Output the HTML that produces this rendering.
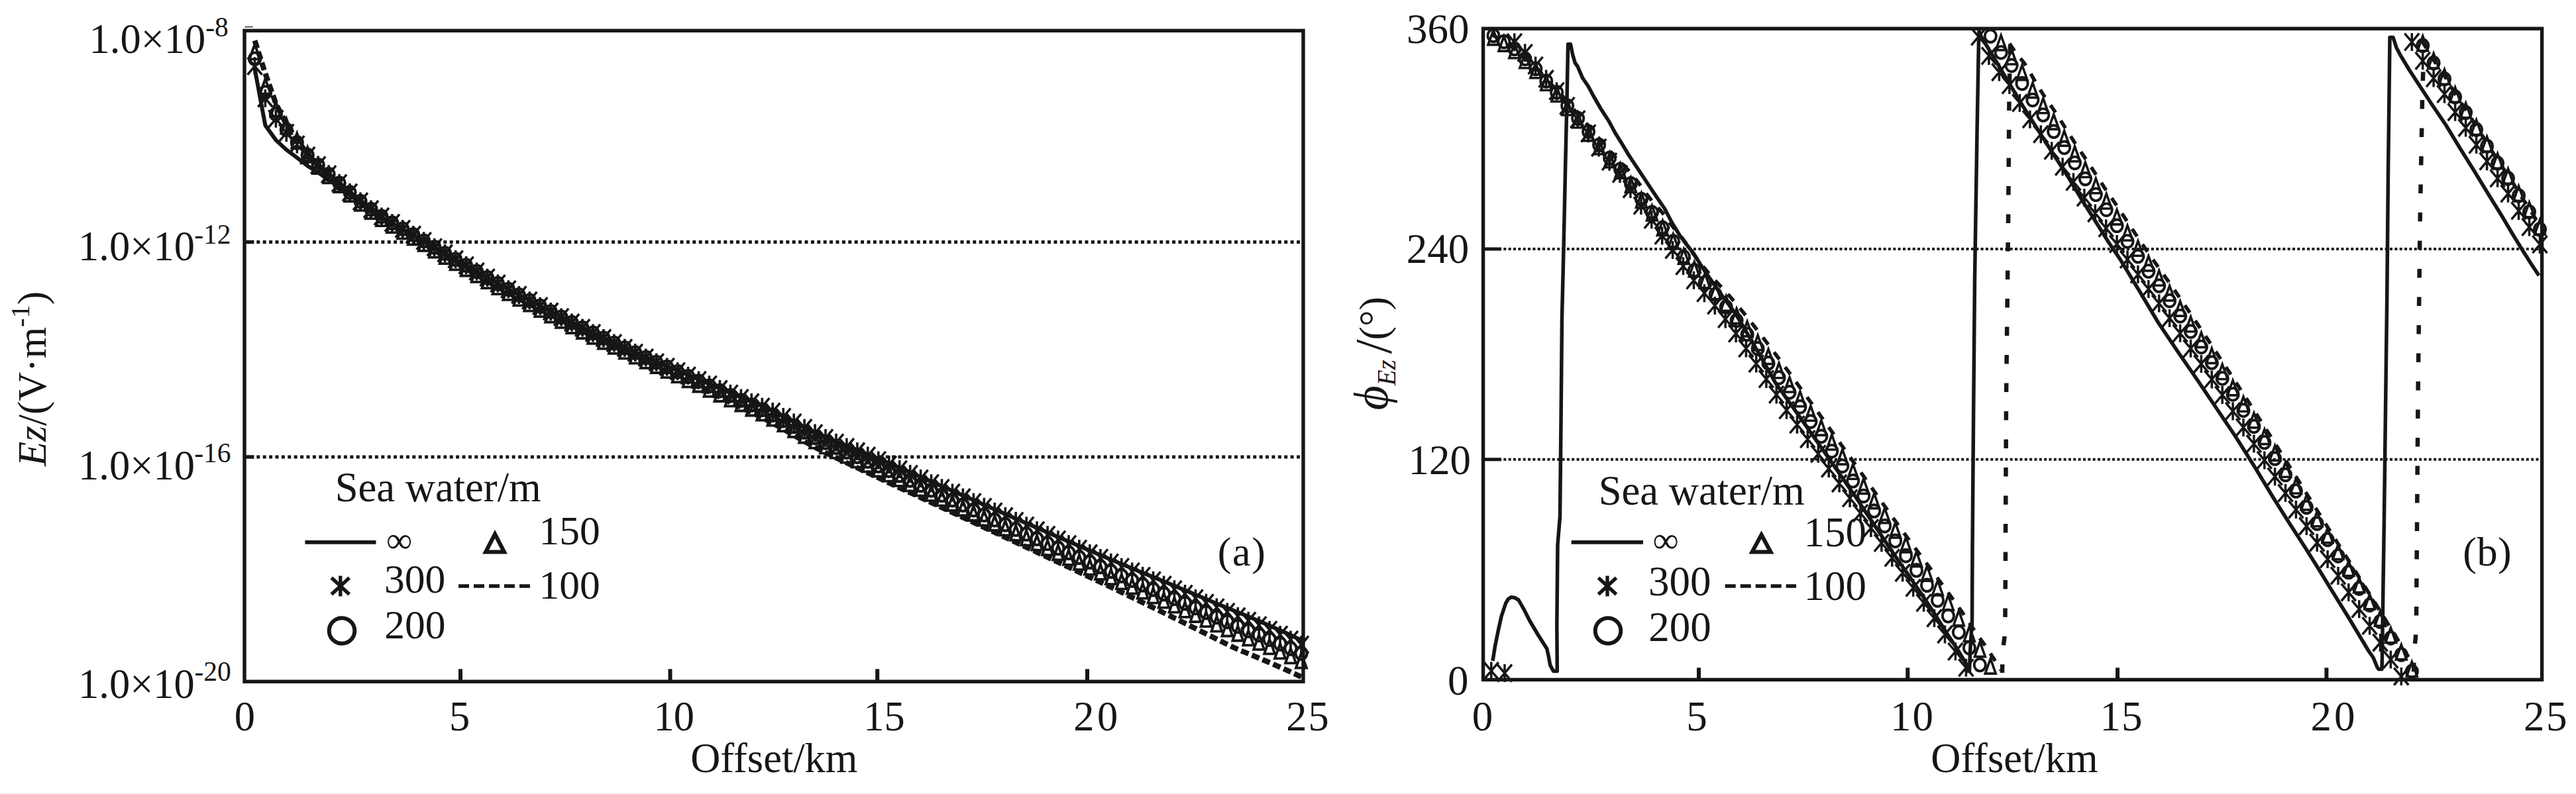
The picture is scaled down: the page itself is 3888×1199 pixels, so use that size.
<!DOCTYPE html>
<html lang="en"><head><meta charset="utf-8"><title>Ez amplitude and phase versus offset</title>
<style>
html,body{margin:0;padding:0;background:#fff;}
body{width:3888px;height:1199px;overflow:hidden;}
svg{display:block;font-family:"Liberation Serif","DejaVu Serif",serif;fill:#161616;}
.ln{fill:none;stroke:#161616;}
</style></head><body>
<svg width="3888" height="1199" viewBox="0 0 3888 1199">
<rect width="3888" height="1199" fill="#fff"/>
<rect x="0" y="1197" width="3888" height="2" fill="#f4f4f4"/>
<g id="plot-a">
<path class="ln" d="M387.3 365.5H1965.0" stroke-width="5" stroke-dasharray="5 4.4"/>
<path class="ln" d="M369.0 365.5H383.5" stroke-width="5.5"/>
<path class="ln" d="M387.3 690.0H1965.0" stroke-width="5" stroke-dasharray="5 4.4"/>
<path class="ln" d="M369.0 690.0H383.5" stroke-width="5.5"/>
<path class="ln" d="M695.0 1029.2V1010.3" stroke-width="6"/>
<path class="ln" d="M1011.5 1029.2V1010.3" stroke-width="6"/>
<path class="ln" d="M1324.2 1029.2V1010.3" stroke-width="6"/>
<path class="ln" d="M1641.0 1029.2V1010.3" stroke-width="6"/>
<path class="ln" d="M384.5 103.9L400.4 189.3L416.4 211.6L432.3 226.1L448.3 238.2L464.2 250.5L480.2 260.5L496.1 271.6L512.1 282.5L528.0 294.4L544.0 305.8L560.0 317.0L575.9 327.7L591.9 337.5L607.8 346.2L623.8 354.9L639.7 364.2L655.7 373.6L671.6 382.7L687.6 391.6L703.6 400.5L719.5 409.9L735.5 419.1L751.4 428.0L767.4 436.6L783.3 445.1L799.3 453.5L815.2 461.8L831.2 470.1L847.1 478.4L863.1 486.5L879.1 494.5L895.0 502.3L911.0 509.8L926.9 517.2L942.9 524.5L958.8 531.8L974.8 539.0L990.7 546.1L1006.7 552.9L1022.7 559.6L1038.6 566.2L1054.6 572.9L1070.5 579.7L1086.5 586.5L1102.4 593.3L1118.4 600.0L1134.3 606.5L1150.3 613.2L1166.2 620.6L1182.2 628.6L1198.2 636.9L1214.1 645.1L1230.1 652.9L1246.0 660.1L1262.0 666.9L1277.9 673.4L1293.9 679.8L1309.8 686.4L1325.8 693.0L1341.8 699.6L1357.7 706.4L1373.7 713.3L1389.6 720.3L1405.6 727.2L1421.5 734.2L1437.5 741.2L1453.4 748.3L1469.4 755.3L1485.3 762.3L1501.3 769.3L1517.3 776.3L1533.2 783.3L1549.2 790.2L1565.1 797.1L1581.1 804.0L1597.0 810.9L1613.0 817.7L1628.9 824.6L1644.9 831.4L1660.9 838.2L1676.8 845.0L1692.8 851.7L1708.7 858.3L1724.7 864.9L1740.6 871.4L1756.6 878.0L1772.5 884.6L1788.5 891.3L1804.5 898.0L1820.4 904.7L1836.4 911.4L1852.3 918.0L1868.3 924.5L1884.2 931.1L1900.2 937.8L1916.1 944.7L1932.1 951.8L1948.0 959.1L1964.0 966.6" stroke-width="6" stroke-linejoin="round"/>
<path class="ln" d="M384.5 61.3L400.4 110.9L416.4 156.5L432.3 187.8L448.3 210.8L464.2 233.0L480.2 249.5L496.1 263.7L512.1 277.6L528.0 291.9L544.0 305.7L560.0 318.0L575.9 329.2L591.9 339.4L607.8 348.6L623.8 357.7L639.7 367.5L655.7 377.3L671.6 386.9L687.6 396.2L703.6 405.6L719.5 415.1L735.5 424.5L751.4 433.5L767.4 442.3L783.3 450.9L799.3 459.5L815.2 467.9L831.2 476.4L847.1 484.8L863.1 493.1L879.1 501.3L895.0 509.2L911.0 516.9L926.9 524.5L942.9 532.0L958.8 539.4L974.8 546.7L990.7 554.0L1006.7 561.4L1022.7 568.9L1038.6 576.5L1054.6 584.2L1070.5 591.9L1086.5 599.7L1102.4 607.4L1118.4 615.2L1134.3 622.7L1150.3 630.5L1166.2 639.0L1182.2 648.0L1198.2 657.3L1214.1 666.6L1230.1 675.4L1246.0 683.6L1262.0 691.4L1277.9 698.9L1293.9 706.4L1309.8 713.9L1325.8 721.5L1341.8 729.1L1357.7 736.5L1373.7 743.9L1389.6 751.3L1405.6 758.8L1421.5 766.3L1437.5 773.8L1453.4 781.3L1469.4 788.8L1485.3 796.4L1501.3 803.9L1517.3 811.4L1533.2 818.9L1549.2 826.3L1565.1 833.8L1581.1 841.4L1597.0 849.0L1613.0 856.5L1628.9 864.1L1644.9 871.6L1660.9 879.1L1676.8 886.6L1692.8 894.4L1708.7 902.2L1724.7 909.9L1740.6 917.7L1756.6 925.5L1772.5 933.3L1788.5 941.2L1804.5 949.2L1820.4 957.1L1836.4 965.1L1852.3 973.0L1868.3 980.7L1884.2 987.1L1900.2 993.7L1916.1 1000.5L1932.1 1007.5L1948.0 1014.7L1964.0 1022.1" stroke-width="8" stroke-dasharray="12 5.4"/>
<path class="ln" d="M384.5 66.9L392.4 89.3H376.5ZM400.4 119.2L408.4 141.6H392.5ZM416.4 153.6L424.3 175.9H408.4ZM432.3 179.2L440.3 201.6H424.4ZM448.3 201.2L456.2 223.5H440.3ZM464.2 222.4L472.2 244.8H456.3ZM480.2 239.9L488.1 262.2H472.2ZM496.1 254.0L504.1 276.3H488.2ZM512.1 267.7L520.0 290.0H504.1ZM528.0 281.9L536.0 304.2H520.1ZM544.0 295.6L552.0 317.9H536.1ZM560.0 307.7L567.9 330.1H552.0ZM575.9 318.8L583.9 341.1H568.0ZM591.9 328.9L599.8 351.2H583.9ZM607.8 337.9L615.8 360.3H599.9ZM623.8 346.9L631.7 369.3H615.8ZM639.7 356.6L647.7 378.9H631.8ZM655.7 366.3L663.6 388.7H647.7ZM671.6 375.7L679.6 398.1H663.7ZM687.6 384.9L695.6 407.3H679.6ZM703.6 394.2L711.5 416.5H695.6ZM719.5 403.5L727.5 425.9H711.6ZM735.5 412.8L743.4 435.2H727.5ZM751.4 421.7L759.4 444.1H743.5ZM767.4 430.4L775.3 452.8H759.4ZM783.3 439.0L791.3 461.3H775.4ZM799.3 447.4L807.2 469.7H791.3ZM815.2 455.8L823.2 478.1H807.3ZM831.2 464.1L839.1 486.5H823.2ZM847.1 472.5L855.1 494.8H839.2ZM863.1 480.7L871.1 503.0H855.2ZM879.1 488.7L887.0 511.0H871.1ZM895.0 496.5L903.0 518.9H887.1ZM911.0 504.1L918.9 526.5H903.0ZM926.9 511.6L934.9 533.9H919.0ZM942.9 518.9L950.8 541.3H934.9ZM958.8 526.2L966.8 548.6H950.9ZM974.8 533.5L982.7 555.8H966.8ZM990.7 540.7L998.7 563.0H982.8ZM1006.7 547.7L1014.7 570.1H998.8ZM1022.7 554.8L1030.6 577.2H1014.7ZM1038.6 562.0L1046.6 584.3H1030.7ZM1054.6 569.2L1062.5 591.5H1046.6ZM1070.5 576.4L1078.5 598.8H1062.6ZM1086.5 583.7L1094.4 606.0H1078.5ZM1102.4 590.9L1110.4 613.3H1094.5ZM1118.4 598.1L1126.3 620.5H1110.4ZM1134.3 605.1L1142.3 627.5H1126.4ZM1150.3 612.3L1158.2 634.7H1142.3ZM1166.2 620.2L1174.2 642.6H1158.3ZM1182.2 628.7L1190.2 651.1H1174.3ZM1198.2 637.4L1206.1 659.8H1190.2ZM1214.1 646.1L1222.1 668.5H1206.2ZM1230.1 654.4L1238.0 676.7H1222.1ZM1246.0 662.0L1254.0 684.4H1238.1ZM1262.0 669.2L1269.9 691.6H1254.0ZM1277.9 676.2L1285.9 698.6H1270.0ZM1293.9 683.1L1301.8 705.5H1285.9ZM1309.8 690.1L1317.8 712.4H1301.9ZM1325.8 697.1L1333.8 719.5H1317.8ZM1341.8 704.2L1349.7 726.6H1333.8ZM1357.7 711.6L1365.7 733.9H1349.8ZM1373.7 718.9L1381.6 741.3H1365.7ZM1389.6 726.3L1397.6 748.7H1381.7ZM1405.6 733.7L1413.5 756.1H1397.6ZM1421.5 741.2L1429.5 763.6H1413.6ZM1437.5 748.7L1445.4 771.0H1429.5ZM1453.4 756.2L1461.4 778.5H1445.5ZM1469.4 763.6L1477.3 786.0H1461.4ZM1485.3 771.1L1493.3 793.5H1477.4ZM1501.3 778.6L1509.3 801.0H1493.4ZM1517.3 786.1L1525.2 808.4H1509.3ZM1533.2 793.5L1541.2 815.9H1525.3ZM1549.2 800.9L1557.1 823.3H1541.2ZM1565.1 808.3L1573.1 830.7H1557.2ZM1581.1 815.7L1589.0 838.1H1573.1ZM1597.0 823.1L1605.0 845.5H1589.1ZM1613.0 830.5L1620.9 852.9H1605.0ZM1628.9 837.9L1636.9 860.2H1621.0ZM1644.9 845.2L1652.9 867.6H1637.0ZM1660.9 852.5L1668.8 874.9H1652.9ZM1676.8 859.8L1684.8 882.2H1668.9ZM1692.8 867.1L1700.7 889.4H1684.8ZM1708.7 874.2L1716.7 896.5H1700.8ZM1724.7 881.2L1732.6 903.6H1716.7ZM1740.6 888.2L1748.6 910.6H1732.7ZM1756.6 895.3L1764.5 917.6H1748.6ZM1772.5 902.4L1780.5 924.7H1764.6ZM1788.5 909.5L1796.4 931.9H1780.5ZM1804.5 916.7L1812.4 939.0H1796.5ZM1820.4 923.9L1828.4 946.2H1812.5ZM1836.4 931.0L1844.3 953.4H1828.4ZM1852.3 938.1L1860.3 960.5H1844.4ZM1868.3 945.2L1876.2 967.5H1860.3ZM1884.2 952.0L1892.2 974.4H1876.3ZM1900.2 958.4L1908.1 980.8H1892.2ZM1916.1 965.1L1924.1 987.4H1908.2ZM1932.1 971.9L1940.0 994.3H1924.1ZM1948.0 979.0L1956.0 1001.3H1940.1ZM1964.0 986.2L1972.0 1008.6H1956.0Z" stroke-width="3.8" stroke-linejoin="miter"/>
<path class="ln" d="M375.9 88.8a8.6 9.3 0 1 0 17.2 0a8.6 9.3 0 1 0 -17.2 0zM391.8 139.5a8.6 9.3 0 1 0 17.2 0a8.6 9.3 0 1 0 -17.2 0zM407.8 172.3a8.6 9.3 0 1 0 17.2 0a8.6 9.3 0 1 0 -17.2 0zM423.7 195.8a8.6 9.3 0 1 0 17.2 0a8.6 9.3 0 1 0 -17.2 0zM439.7 215.3a8.6 9.3 0 1 0 17.2 0a8.6 9.3 0 1 0 -17.2 0zM455.6 234.2a8.6 9.3 0 1 0 17.2 0a8.6 9.3 0 1 0 -17.2 0zM471.6 249.3a8.6 9.3 0 1 0 17.2 0a8.6 9.3 0 1 0 -17.2 0zM487.5 263.1a8.6 9.3 0 1 0 17.2 0a8.6 9.3 0 1 0 -17.2 0zM503.5 276.6a8.6 9.3 0 1 0 17.2 0a8.6 9.3 0 1 0 -17.2 0zM519.4 290.6a8.6 9.3 0 1 0 17.2 0a8.6 9.3 0 1 0 -17.2 0zM535.4 304.1a8.6 9.3 0 1 0 17.2 0a8.6 9.3 0 1 0 -17.2 0zM551.4 316.0a8.6 9.3 0 1 0 17.2 0a8.6 9.3 0 1 0 -17.2 0zM567.3 326.9a8.6 9.3 0 1 0 17.2 0a8.6 9.3 0 1 0 -17.2 0zM583.3 336.7a8.6 9.3 0 1 0 17.2 0a8.6 9.3 0 1 0 -17.2 0zM599.2 345.6a8.6 9.3 0 1 0 17.2 0a8.6 9.3 0 1 0 -17.2 0zM615.2 354.4a8.6 9.3 0 1 0 17.2 0a8.6 9.3 0 1 0 -17.2 0zM631.1 363.8a8.6 9.3 0 1 0 17.2 0a8.6 9.3 0 1 0 -17.2 0zM647.1 373.3a8.6 9.3 0 1 0 17.2 0a8.6 9.3 0 1 0 -17.2 0zM663.0 382.5a8.6 9.3 0 1 0 17.2 0a8.6 9.3 0 1 0 -17.2 0zM679.0 391.5a8.6 9.3 0 1 0 17.2 0a8.6 9.3 0 1 0 -17.2 0zM695.0 400.6a8.6 9.3 0 1 0 17.2 0a8.6 9.3 0 1 0 -17.2 0zM710.9 409.9a8.6 9.3 0 1 0 17.2 0a8.6 9.3 0 1 0 -17.2 0zM726.9 419.2a8.6 9.3 0 1 0 17.2 0a8.6 9.3 0 1 0 -17.2 0zM742.8 428.1a8.6 9.3 0 1 0 17.2 0a8.6 9.3 0 1 0 -17.2 0zM758.8 436.8a8.6 9.3 0 1 0 17.2 0a8.6 9.3 0 1 0 -17.2 0zM774.7 445.4a8.6 9.3 0 1 0 17.2 0a8.6 9.3 0 1 0 -17.2 0zM790.7 453.8a8.6 9.3 0 1 0 17.2 0a8.6 9.3 0 1 0 -17.2 0zM806.6 462.2a8.6 9.3 0 1 0 17.2 0a8.6 9.3 0 1 0 -17.2 0zM822.6 470.5a8.6 9.3 0 1 0 17.2 0a8.6 9.3 0 1 0 -17.2 0zM838.5 478.9a8.6 9.3 0 1 0 17.2 0a8.6 9.3 0 1 0 -17.2 0zM854.5 487.1a8.6 9.3 0 1 0 17.2 0a8.6 9.3 0 1 0 -17.2 0zM870.5 495.1a8.6 9.3 0 1 0 17.2 0a8.6 9.3 0 1 0 -17.2 0zM886.4 502.9a8.6 9.3 0 1 0 17.2 0a8.6 9.3 0 1 0 -17.2 0zM902.4 510.5a8.6 9.3 0 1 0 17.2 0a8.6 9.3 0 1 0 -17.2 0zM918.3 518.0a8.6 9.3 0 1 0 17.2 0a8.6 9.3 0 1 0 -17.2 0zM934.3 525.3a8.6 9.3 0 1 0 17.2 0a8.6 9.3 0 1 0 -17.2 0zM950.2 532.6a8.6 9.3 0 1 0 17.2 0a8.6 9.3 0 1 0 -17.2 0zM966.2 539.9a8.6 9.3 0 1 0 17.2 0a8.6 9.3 0 1 0 -17.2 0zM982.1 547.1a8.6 9.3 0 1 0 17.2 0a8.6 9.3 0 1 0 -17.2 0zM998.1 554.1a8.6 9.3 0 1 0 17.2 0a8.6 9.3 0 1 0 -17.2 0zM1014.1 561.2a8.6 9.3 0 1 0 17.2 0a8.6 9.3 0 1 0 -17.2 0zM1030.0 568.4a8.6 9.3 0 1 0 17.2 0a8.6 9.3 0 1 0 -17.2 0zM1046.0 575.6a8.6 9.3 0 1 0 17.2 0a8.6 9.3 0 1 0 -17.2 0zM1061.9 582.8a8.6 9.3 0 1 0 17.2 0a8.6 9.3 0 1 0 -17.2 0zM1077.9 590.1a8.6 9.3 0 1 0 17.2 0a8.6 9.3 0 1 0 -17.2 0zM1093.8 597.3a8.6 9.3 0 1 0 17.2 0a8.6 9.3 0 1 0 -17.2 0zM1109.8 604.5a8.6 9.3 0 1 0 17.2 0a8.6 9.3 0 1 0 -17.2 0zM1125.7 611.5a8.6 9.3 0 1 0 17.2 0a8.6 9.3 0 1 0 -17.2 0zM1141.7 618.7a8.6 9.3 0 1 0 17.2 0a8.6 9.3 0 1 0 -17.2 0zM1157.7 626.6a8.6 9.3 0 1 0 17.2 0a8.6 9.3 0 1 0 -17.2 0zM1173.6 635.1a8.6 9.3 0 1 0 17.2 0a8.6 9.3 0 1 0 -17.2 0zM1189.6 643.8a8.6 9.3 0 1 0 17.2 0a8.6 9.3 0 1 0 -17.2 0zM1205.5 652.5a8.6 9.3 0 1 0 17.2 0a8.6 9.3 0 1 0 -17.2 0zM1221.5 660.8a8.6 9.3 0 1 0 17.2 0a8.6 9.3 0 1 0 -17.2 0zM1237.4 668.4a8.6 9.3 0 1 0 17.2 0a8.6 9.3 0 1 0 -17.2 0zM1253.4 675.6a8.6 9.3 0 1 0 17.2 0a8.6 9.3 0 1 0 -17.2 0zM1269.3 682.6a8.6 9.3 0 1 0 17.2 0a8.6 9.3 0 1 0 -17.2 0zM1285.3 689.5a8.6 9.3 0 1 0 17.2 0a8.6 9.3 0 1 0 -17.2 0zM1301.2 696.5a8.6 9.3 0 1 0 17.2 0a8.6 9.3 0 1 0 -17.2 0zM1317.2 703.5a8.6 9.3 0 1 0 17.2 0a8.6 9.3 0 1 0 -17.2 0zM1333.2 710.6a8.6 9.3 0 1 0 17.2 0a8.6 9.3 0 1 0 -17.2 0zM1349.1 718.0a8.6 9.3 0 1 0 17.2 0a8.6 9.3 0 1 0 -17.2 0zM1365.1 725.3a8.6 9.3 0 1 0 17.2 0a8.6 9.3 0 1 0 -17.2 0zM1381.0 732.7a8.6 9.3 0 1 0 17.2 0a8.6 9.3 0 1 0 -17.2 0zM1397.0 740.2a8.6 9.3 0 1 0 17.2 0a8.6 9.3 0 1 0 -17.2 0zM1412.9 747.7a8.6 9.3 0 1 0 17.2 0a8.6 9.3 0 1 0 -17.2 0zM1428.9 755.1a8.6 9.3 0 1 0 17.2 0a8.6 9.3 0 1 0 -17.2 0zM1444.8 762.6a8.6 9.3 0 1 0 17.2 0a8.6 9.3 0 1 0 -17.2 0zM1460.8 770.1a8.6 9.3 0 1 0 17.2 0a8.6 9.3 0 1 0 -17.2 0zM1476.8 777.6a8.6 9.3 0 1 0 17.2 0a8.6 9.3 0 1 0 -17.2 0zM1492.7 785.1a8.6 9.3 0 1 0 17.2 0a8.6 9.3 0 1 0 -17.2 0zM1508.7 792.3a8.6 9.3 0 1 0 17.2 0a8.6 9.3 0 1 0 -17.2 0zM1524.6 799.4a8.6 9.3 0 1 0 17.2 0a8.6 9.3 0 1 0 -17.2 0zM1540.6 806.5a8.6 9.3 0 1 0 17.2 0a8.6 9.3 0 1 0 -17.2 0zM1556.5 813.6a8.6 9.3 0 1 0 17.2 0a8.6 9.3 0 1 0 -17.2 0zM1572.5 820.7a8.6 9.3 0 1 0 17.2 0a8.6 9.3 0 1 0 -17.2 0zM1588.4 827.7a8.6 9.3 0 1 0 17.2 0a8.6 9.3 0 1 0 -17.2 0zM1604.4 834.8a8.6 9.3 0 1 0 17.2 0a8.6 9.3 0 1 0 -17.2 0zM1620.3 841.8a8.6 9.3 0 1 0 17.2 0a8.6 9.3 0 1 0 -17.2 0zM1636.3 848.8a8.6 9.3 0 1 0 17.2 0a8.6 9.3 0 1 0 -17.2 0zM1652.3 855.8a8.6 9.3 0 1 0 17.2 0a8.6 9.3 0 1 0 -17.2 0zM1668.2 862.7a8.6 9.3 0 1 0 17.2 0a8.6 9.3 0 1 0 -17.2 0zM1684.2 869.6a8.6 9.3 0 1 0 17.2 0a8.6 9.3 0 1 0 -17.2 0zM1700.1 876.5a8.6 9.3 0 1 0 17.2 0a8.6 9.3 0 1 0 -17.2 0zM1716.1 883.3a8.6 9.3 0 1 0 17.2 0a8.6 9.3 0 1 0 -17.2 0zM1732.0 890.2a8.6 9.3 0 1 0 17.2 0a8.6 9.3 0 1 0 -17.2 0zM1748.0 897.0a8.6 9.3 0 1 0 17.2 0a8.6 9.3 0 1 0 -17.2 0zM1763.9 904.0a8.6 9.3 0 1 0 17.2 0a8.6 9.3 0 1 0 -17.2 0zM1779.9 910.9a8.6 9.3 0 1 0 17.2 0a8.6 9.3 0 1 0 -17.2 0zM1795.9 917.9a8.6 9.3 0 1 0 17.2 0a8.6 9.3 0 1 0 -17.2 0zM1811.8 924.9a8.6 9.3 0 1 0 17.2 0a8.6 9.3 0 1 0 -17.2 0zM1827.8 931.9a8.6 9.3 0 1 0 17.2 0a8.6 9.3 0 1 0 -17.2 0zM1843.7 938.8a8.6 9.3 0 1 0 17.2 0a8.6 9.3 0 1 0 -17.2 0zM1859.7 945.7a8.6 9.3 0 1 0 17.2 0a8.6 9.3 0 1 0 -17.2 0zM1875.6 952.4a8.6 9.3 0 1 0 17.2 0a8.6 9.3 0 1 0 -17.2 0zM1891.6 958.8a8.6 9.3 0 1 0 17.2 0a8.6 9.3 0 1 0 -17.2 0zM1907.5 965.5a8.6 9.3 0 1 0 17.2 0a8.6 9.3 0 1 0 -17.2 0zM1923.5 972.3a8.6 9.3 0 1 0 17.2 0a8.6 9.3 0 1 0 -17.2 0zM1939.4 979.4a8.6 9.3 0 1 0 17.2 0a8.6 9.3 0 1 0 -17.2 0zM1955.4 986.6a8.6 9.3 0 1 0 17.2 0a8.6 9.3 0 1 0 -17.2 0z" stroke-width="4.1"/>
<path class="ln" d="M373.5 86.8L395.5 112.8M395.5 86.8L373.5 112.8M384.5 86.3V113.3M389.4 135.5L411.4 161.5M411.4 135.5L389.4 161.5M400.4 135.0V162.0M405.4 166.3L427.4 192.3M427.4 166.3L405.4 192.3M416.4 165.8V192.8M421.3 187.6L443.3 213.6M443.3 187.6L421.3 213.6M432.3 187.1V214.1M437.3 205.1L459.3 231.1M459.3 205.1L437.3 231.1M448.3 204.6V231.6M453.2 221.9L475.2 247.9M475.2 221.9L453.2 247.9M464.2 221.4V248.4M469.2 236.3L491.2 262.3M491.2 236.3L469.2 262.3M480.2 235.8V262.8M485.1 250.1L507.1 276.1M507.1 250.1L485.1 276.1M496.1 249.6V276.6M501.1 263.6L523.1 289.6M523.1 263.6L501.1 289.6M512.1 263.1V290.1M517.0 277.6L539.0 303.6M539.0 277.6L517.0 303.6M528.0 277.1V304.1M533.0 291.1L555.0 317.1M555.0 291.1L533.0 317.1M544.0 290.6V317.6M549.0 303.0L571.0 329.0M571.0 303.0L549.0 329.0M560.0 302.5V329.5M564.9 313.9L586.9 339.9M586.9 313.9L564.9 339.9M575.9 313.4V340.4M580.9 323.7L602.9 349.7M602.9 323.7L580.9 349.7M591.9 323.2V350.2M596.8 332.6L618.8 358.6M618.8 332.6L596.8 358.6M607.8 332.1V359.1M612.8 341.4L634.8 367.4M634.8 341.4L612.8 367.4M623.8 340.9V367.9M628.7 350.8L650.7 376.8M650.7 350.8L628.7 376.8M639.7 350.3V377.3M644.7 360.3L666.7 386.3M666.7 360.3L644.7 386.3M655.7 359.8V386.8M660.6 369.5L682.6 395.5M682.6 369.5L660.6 395.5M671.6 369.0V396.0M676.6 378.5L698.6 404.5M698.6 378.5L676.6 404.5M687.6 378.0V405.0M692.6 387.6L714.6 413.6M714.6 387.6L692.6 413.6M703.6 387.1V414.1M708.5 396.9L730.5 422.9M730.5 396.9L708.5 422.9M719.5 396.4V423.4M724.5 406.2L746.5 432.2M746.5 406.2L724.5 432.2M735.5 405.7V432.7M740.4 415.1L762.4 441.1M762.4 415.1L740.4 441.1M751.4 414.6V441.6M756.4 423.8L778.4 449.8M778.4 423.8L756.4 449.8M767.4 423.3V450.3M772.3 432.4L794.3 458.4M794.3 432.4L772.3 458.4M783.3 431.9V458.9M788.3 440.8L810.3 466.8M810.3 440.8L788.3 466.8M799.3 440.3V467.3M804.2 449.2L826.2 475.2M826.2 449.2L804.2 475.2M815.2 448.7V475.7M820.2 457.5L842.2 483.5M842.2 457.5L820.2 483.5M831.2 457.0V484.0M836.1 465.9L858.1 491.9M858.1 465.9L836.1 491.9M847.1 465.4V492.4M852.1 474.1L874.1 500.1M874.1 474.1L852.1 500.1M863.1 473.6V500.6M868.1 482.1L890.1 508.1M890.1 482.1L868.1 508.1M879.1 481.6V508.6M884.0 489.9L906.0 515.9M906.0 489.9L884.0 515.9M895.0 489.4V516.4M900.0 497.5L922.0 523.5M922.0 497.5L900.0 523.5M911.0 497.0V524.0M915.9 505.0L937.9 531.0M937.9 505.0L915.9 531.0M926.9 504.5V531.5M931.9 512.3L953.9 538.3M953.9 512.3L931.9 538.3M942.9 511.8V538.8M947.8 519.6L969.8 545.6M969.8 519.6L947.8 545.6M958.8 519.1V546.1M963.8 526.9L985.8 552.9M985.8 526.9L963.8 552.9M974.8 526.4V553.4M979.7 534.1L1001.7 560.1M1001.7 534.1L979.7 560.1M990.7 533.6V560.6M995.7 540.9L1017.7 566.9M1017.7 540.9L995.7 566.9M1006.7 540.4V567.4M1011.7 547.6L1033.7 573.6M1033.7 547.6L1011.7 573.6M1022.7 547.1V574.1M1027.6 554.2L1049.6 580.2M1049.6 554.2L1027.6 580.2M1038.6 553.7V580.7M1043.6 560.9L1065.6 586.9M1065.6 560.9L1043.6 586.9M1054.6 560.4V587.4M1059.5 567.7L1081.5 593.7M1081.5 567.7L1059.5 593.7M1070.5 567.2V594.2M1075.5 574.5L1097.5 600.5M1097.5 574.5L1075.5 600.5M1086.5 574.0V601.0M1091.4 581.3L1113.4 607.3M1113.4 581.3L1091.4 607.3M1102.4 580.8V607.8M1107.4 588.0L1129.4 614.0M1129.4 588.0L1107.4 614.0M1118.4 587.5V614.5M1123.3 594.5L1145.3 620.5M1145.3 594.5L1123.3 620.5M1134.3 594.0V621.0M1139.3 601.2L1161.3 627.2M1161.3 601.2L1139.3 627.2M1150.3 600.7V627.7M1155.2 608.6L1177.2 634.6M1177.2 608.6L1155.2 634.6M1166.2 608.1V635.1M1171.2 616.6L1193.2 642.6M1193.2 616.6L1171.2 642.6M1182.2 616.1V643.1M1187.2 624.9L1209.2 650.9M1209.2 624.9L1187.2 650.9M1198.2 624.4V651.4M1203.1 633.2L1225.1 659.2M1225.1 633.2L1203.1 659.2M1214.1 632.7V659.7M1219.1 641.1L1241.1 667.1M1241.1 641.1L1219.1 667.1M1230.1 640.6V667.6M1235.0 648.4L1257.0 674.4M1257.0 648.4L1235.0 674.4M1246.0 647.9V674.9M1251.0 655.3L1273.0 681.3M1273.0 655.3L1251.0 681.3M1262.0 654.8V681.8M1266.9 662.0L1288.9 688.0M1288.9 662.0L1266.9 688.0M1277.9 661.5V688.5M1282.9 668.5L1304.9 694.5M1304.9 668.5L1282.9 694.5M1293.9 668.0V695.0M1298.8 675.1L1320.8 701.1M1320.8 675.1L1298.8 701.1M1309.8 674.6V701.6M1314.8 681.9L1336.8 707.9M1336.8 681.9L1314.8 707.9M1325.8 681.4V708.4M1330.8 688.6L1352.8 714.6M1352.8 688.6L1330.8 714.6M1341.8 688.1V715.1M1346.7 695.6L1368.7 721.6M1368.7 695.6L1346.7 721.6M1357.7 695.1V722.1M1362.7 702.6L1384.7 728.6M1384.7 702.6L1362.7 728.6M1373.7 702.1V729.1M1378.6 709.6L1400.6 735.6M1400.6 709.6L1378.6 735.6M1389.6 709.1V736.1M1394.6 716.7L1416.6 742.7M1416.6 716.7L1394.6 742.7M1405.6 716.2V743.2M1410.5 723.8L1432.5 749.8M1432.5 723.8L1410.5 749.8M1421.5 723.3V750.3M1426.5 730.9L1448.5 756.9M1448.5 730.9L1426.5 756.9M1437.5 730.4V757.4M1442.4 738.0L1464.4 764.0M1464.4 738.0L1442.4 764.0M1453.4 737.5V764.5M1458.4 745.2L1480.4 771.2M1480.4 745.2L1458.4 771.2M1469.4 744.7V771.7M1474.3 752.3L1496.3 778.3M1496.3 752.3L1474.3 778.3M1485.3 751.8V778.8M1490.3 759.4L1512.3 785.4M1512.3 759.4L1490.3 785.4M1501.3 758.9V785.9M1506.3 766.5L1528.3 792.5M1528.3 766.5L1506.3 792.5M1517.3 766.0V793.0M1522.2 773.6L1544.2 799.6M1544.2 773.6L1522.2 799.6M1533.2 773.1V800.1M1538.2 780.7L1560.2 806.7M1560.2 780.7L1538.2 806.7M1549.2 780.2V807.2M1554.1 787.7L1576.1 813.7M1576.1 787.7L1554.1 813.7M1565.1 787.2V814.2M1570.1 794.7L1592.1 820.7M1592.1 794.7L1570.1 820.7M1581.1 794.2V821.2M1586.0 801.7L1608.0 827.7M1608.0 801.7L1586.0 827.7M1597.0 801.2V828.2M1602.0 808.6L1624.0 834.6M1624.0 808.6L1602.0 834.6M1613.0 808.1V835.1M1617.9 815.6L1639.9 841.6M1639.9 815.6L1617.9 841.6M1628.9 815.1V842.1M1633.9 822.5L1655.9 848.5M1655.9 822.5L1633.9 848.5M1644.9 822.0V849.0M1649.9 829.4L1671.9 855.4M1671.9 829.4L1649.9 855.4M1660.9 828.9V855.9M1665.8 836.3L1687.8 862.3M1687.8 836.3L1665.8 862.3M1676.8 835.8V862.8M1681.8 843.2L1703.8 869.2M1703.8 843.2L1681.8 869.2M1692.8 842.7V869.7M1697.7 849.9L1719.7 875.9M1719.7 849.9L1697.7 875.9M1708.7 849.4V876.4M1713.7 856.6L1735.7 882.6M1735.7 856.6L1713.7 882.6M1724.7 856.1V883.1M1729.6 863.3L1751.6 889.3M1751.6 863.3L1729.6 889.3M1740.6 862.8V889.8M1745.6 870.0L1767.6 896.0M1767.6 870.0L1745.6 896.0M1756.6 869.5V896.5M1761.5 876.8L1783.5 902.8M1783.5 876.8L1761.5 902.8M1772.5 876.3V903.3M1777.5 883.6L1799.5 909.6M1799.5 883.6L1777.5 909.6M1788.5 883.1V910.1M1793.5 890.4L1815.5 916.4M1815.5 890.4L1793.5 916.4M1804.5 889.9V916.9M1809.4 897.3L1831.4 923.3M1831.4 897.3L1809.4 923.3M1820.4 896.8V923.8M1825.4 904.1L1847.4 930.1M1847.4 904.1L1825.4 930.1M1836.4 903.6V930.6M1841.3 910.9L1863.3 936.9M1863.3 910.9L1841.3 936.9M1852.3 910.4V937.4M1857.3 917.6L1879.3 943.6M1879.3 917.6L1857.3 943.6M1868.3 917.1V944.1M1873.2 924.3L1895.2 950.3M1895.2 924.3L1873.2 950.3M1884.2 923.8V950.8M1889.2 931.2L1911.2 957.2M1911.2 931.2L1889.2 957.2M1900.2 930.7V957.7M1905.1 938.2L1927.1 964.2M1927.1 938.2L1905.1 964.2M1916.1 937.7V964.7M1921.1 945.4L1943.1 971.4M1943.1 945.4L1921.1 971.4M1932.1 944.9V971.9M1937.0 952.9L1959.0 978.9M1959.0 952.9L1937.0 978.9M1948.0 952.4V979.4M1953.0 960.5L1975.0 986.5M1975.0 960.5L1953.0 986.5M1964.0 960.0V987.0" stroke-width="3.6"/>
<rect class="ln" x="369.0" y="46.3" width="1598.0" height="982.9000000000001" stroke-width="5.4"/>
<path class="ln" d="M369.5 40.6H381.7" stroke-width="1.3" stroke="#555"/>
</g>
<g id="plot-b">
<path class="ln" d="M2269.3 376.0H3834.6" stroke-width="4" stroke-dasharray="4 3.35"/>
<path class="ln" d="M2238.6 376.0H2266.1" stroke-width="5"/>
<path class="ln" d="M2269.3 693.8H3834.6" stroke-width="4" stroke-dasharray="4 3.35"/>
<path class="ln" d="M2238.6 693.8H2266.1" stroke-width="5"/>
<path class="ln" d="M2564.0 1026.4V1008.3" stroke-width="6"/>
<path class="ln" d="M2879.3 1026.4V1008.3" stroke-width="6"/>
<path class="ln" d="M3196.0 1026.4V1008.3" stroke-width="6"/>
<path class="ln" d="M3511.4 1026.4V1008.3" stroke-width="6"/>
<path class="ln" d="M2252.0 52.5L2256.0 54.6L2260.0 56.9L2264.0 59.2L2268.0 61.5L2272.0 64.0L2276.0 66.4L2280.0 68.9L2284.0 71.6L2288.0 74.6L2292.0 78.1L2296.0 81.9L2300.0 85.8L2304.0 89.5L2308.0 93.0L2312.0 96.6L2316.0 100.3L2320.0 104.3L2324.0 108.7L2328.0 113.4L2332.0 117.9L2336.0 122.2L2340.0 126.1L2344.0 130.0L2348.0 133.9L2352.0 138.0L2356.0 142.4L2360.0 147.2L2364.0 152.1L2368.0 157.0L2372.0 161.6L2376.0 166.0L2380.0 170.4L2384.0 174.9L2388.0 179.4L2392.0 184.0L2396.0 188.6L2400.0 193.3L2404.0 198.0L2408.0 202.7L2412.0 207.4L2416.0 212.2L2420.0 216.9L2424.0 221.5L2428.0 226.2L2432.0 230.8L2436.0 235.3L2440.0 239.5L2444.0 243.5L2448.0 247.2L2452.0 251.0L2456.0 255.1L2460.0 259.6L2464.0 264.5L2468.0 269.6L2472.0 274.8L2476.0 280.1L2480.0 285.7L2484.0 291.4L2488.0 296.8L2492.0 301.8L2496.0 306.4L2500.0 310.8L2504.0 315.3L2508.0 319.9L2512.0 325.0L2516.0 330.4L2520.0 335.9L2524.0 341.3L2528.0 346.2L2532.0 351.1L2536.0 356.0L2540.0 361.0L2544.0 366.3L2548.0 372.0L2552.0 377.9L2556.0 383.7L2560.0 389.1L2564.0 394.3L2568.0 399.4L2572.0 404.3L2576.0 409.1L2580.0 413.7L2584.0 418.2L2588.0 422.7L2592.0 427.1L2596.0 431.4L2600.0 435.6L2604.0 439.9L2608.0 444.4L2612.0 448.9L2616.0 453.5L2620.0 458.2L2624.0 463.0L2628.0 467.9L2632.0 472.8L2636.0 477.8L2640.0 482.8L2644.0 487.9L2648.0 493.0L2652.0 498.2L2656.0 503.4L2660.0 508.6L2664.0 513.9L2668.0 519.1L2672.0 524.5L2676.0 529.8L2680.0 535.1L2684.0 540.5L2688.0 545.9L2692.0 551.3L2696.0 556.7L2700.0 562.0L2704.0 567.6L2708.0 573.1L2712.0 578.6L2716.0 584.1L2720.0 589.6L2724.0 595.1L2728.0 600.6L2732.0 606.1L2736.0 611.7L2740.0 617.2L2744.0 622.7L2748.0 628.3L2752.0 633.9L2756.0 639.4L2760.0 645.0L2764.0 650.6L2768.0 656.2L2772.0 661.8L2776.0 667.4L2780.0 673.0L2784.0 678.7L2788.0 684.3L2792.0 689.9L2796.0 695.6L2800.0 701.2L2804.0 706.9L2808.0 712.5L2812.0 718.2L2816.0 723.8L2820.0 729.5L2824.0 735.2L2828.0 740.8L2832.0 746.5L2836.0 752.2L2840.0 757.9L2844.0 763.5L2848.0 769.2L2852.0 774.9L2856.0 780.5L2860.0 786.2L2864.0 791.7L2868.0 797.1L2872.0 802.6L2876.0 808.0L2880.0 813.5L2884.0 818.9L2888.0 824.3L2892.0 829.7L2896.0 835.1L2900.0 840.4L2904.0 845.8L2908.0 851.2L2912.0 856.5L2916.0 861.9L2920.0 867.3L2924.0 872.7L2928.0 878.1L2932.0 883.5L2936.0 888.9L2940.0 894.4L2944.0 899.9L2948.0 905.5L2952.0 911.1L2956.0 916.7L2960.0 922.4L2964.0 928.1L2968.0 933.9L2972.0 940.0L2976.0 946.1L2980.0 952.1L2984.0 957.8L2988.0 963.4L2992.0 969.0L2996.0 974.7L3000.0 980.5L3004.0 986.6L3008.0 992.8L3012.0 999.1L3016.0 1005.6L3020.0 1012.0" stroke-width="5.5" stroke-dasharray="13.5 14.5"/>
<path class="ln" d="M3033.0 65.6L3037.0 71.9L3041.0 77.7L3045.0 83.0L3049.0 87.8L3053.0 92.5L3057.0 97.8L3061.0 104.1L3065.0 111.1L3069.0 118.3L3073.0 125.2L3077.0 131.8L3081.0 138.3L3085.0 144.6L3089.0 150.6L3093.0 156.3L3097.0 161.9L3101.0 167.7L3105.0 173.7L3109.0 180.1L3113.0 186.5L3117.0 192.9L3121.0 199.2L3125.0 205.6L3129.0 211.8L3133.0 218.0L3137.0 224.0L3141.0 229.8L3145.0 235.6L3149.0 241.5L3153.0 247.5L3157.0 253.6L3161.0 259.8L3165.0 265.9L3169.0 272.1L3173.0 278.3L3177.0 284.4L3181.0 290.4L3185.0 296.3L3189.0 302.0L3193.0 307.8L3197.0 313.7L3201.0 319.7L3205.0 325.9L3209.0 332.1L3213.0 338.2L3217.0 344.3L3221.0 350.3L3225.0 356.3L3229.0 362.3L3233.0 368.2L3237.0 374.0L3241.0 379.8L3245.0 385.5L3249.0 391.3L3253.0 397.0L3257.0 402.7L3261.0 408.4L3265.0 414.0L3269.0 419.6L3273.0 425.2L3277.0 430.9L3281.0 436.8L3285.0 442.6L3289.0 448.4L3293.0 454.3L3297.0 460.2L3301.0 466.1L3305.0 472.0L3309.0 478.0L3313.0 483.9L3317.0 489.9L3321.0 495.9L3325.0 501.9L3329.0 507.9L3333.0 513.9L3337.0 520.0L3341.0 526.0L3345.0 532.1L3349.0 538.2L3353.0 544.3L3357.0 550.4L3361.0 556.5L3365.0 562.6L3369.0 568.7L3373.0 574.9L3377.0 581.1L3381.0 587.2L3385.0 593.4L3389.0 599.6L3393.0 605.8L3397.0 612.0L3401.0 618.2L3405.0 624.4L3409.0 630.7L3413.0 636.9L3417.0 643.2L3421.0 649.4L3425.0 655.8L3429.0 662.1L3433.0 668.4L3437.0 674.8L3441.0 681.2L3445.0 687.5L3449.0 693.9L3453.0 700.3L3457.0 706.6L3461.0 713.0L3465.0 719.4L3469.0 725.8L3473.0 732.1L3477.0 738.5L3481.0 744.9L3485.0 751.3L3489.0 757.7L3493.0 764.1L3497.0 770.4L3501.0 776.8L3505.0 783.2L3509.0 789.6L3513.0 796.0L3517.0 802.3L3521.0 808.7L3525.0 815.0L3529.0 821.4L3533.0 827.7L3537.0 834.1L3541.0 840.5L3545.0 846.8L3549.0 853.2L3553.0 859.6L3557.0 866.0L3561.0 872.4L3565.0 878.9L3569.0 885.3L3573.0 891.7L3577.0 898.1L3581.0 904.6L3585.0 911.0L3589.0 917.5L3593.0 923.9L3597.0 930.4L3601.0 936.9L3605.0 943.4L3609.0 949.8L3613.0 956.3L3617.0 962.8L3621.0 969.3L3625.0 975.8L3629.0 982.3L3633.0 988.8L3637.0 995.3L3641.0 1001.9L3645.0 1008.4L3649.0 1012.0" stroke-width="5.5" stroke-dasharray="13.5 14.5"/>
<path class="ln" d="M3655.0 60.9L3659.0 67.7L3663.0 74.3L3667.0 80.8L3671.0 87.2L3675.0 93.5L3679.0 99.5L3683.0 105.2L3687.0 111.0L3691.0 116.9L3695.0 123.4L3699.0 130.3L3703.0 137.2L3707.0 143.8L3711.0 149.9L3715.0 155.8L3719.0 161.6L3723.0 167.5L3727.0 173.8L3731.0 180.2L3735.0 186.6L3739.0 193.0L3743.0 199.4L3747.0 205.6L3751.0 211.9L3755.0 218.2L3759.0 224.7L3763.0 231.2L3767.0 237.7L3771.0 244.0L3775.0 249.9L3779.0 255.5L3783.0 261.2L3787.0 267.0L3791.0 273.2L3795.0 279.8L3799.0 286.5L3803.0 293.0L3807.0 299.2L3811.0 305.3L3815.0 311.3L3819.0 317.5L3823.0 323.9L3827.0 330.5L3831.0 337.2L3835.0 343.8" stroke-width="5.5" stroke-dasharray="13.5 14.5"/>
<path class="ln" d="M3022 1016L3022.5 985L3025.5 962L3026.5 930L3028 600L3031 340L3032.5 150L3034 64" stroke-width="6.5" stroke-dasharray="13.5 29" stroke-dashoffset="0.75"/>
<path class="ln" d="M3643 1020L3643.5 985L3646 962L3647 930L3649.5 600L3652.5 340L3656 150L3657.5 100" stroke-width="6.5" stroke-dasharray="13.5 29" stroke-dashoffset="-5.75"/>
<path class="ln" d="M2253.0 998.0L2256.5 976.0L2261.0 953.6L2266.0 931.0L2272.6 911.0L2276.5 904.5L2280.8 901.8L2286.0 902.5L2292.0 906.0L2300.0 920.0L2308.6 937.0L2321.0 958.0L2334.8 979.8L2337.5 992.0L2339.7 1004.4L2344.6 1013.5L2350.3 1013.5L2349.8 943.8L2351.0 822.6L2354.5 780.0L2356.0 640.0L2357.5 480.0L2360.0 376.0L2362.6 255.0L2365.0 150.0L2366.6 66.8L2370.5 66.8L2373.5 82.0L2377.3 95.0L2381.0 100.0L2388.6 117.8L2397.0 130.0L2405.6 146.0L2416.0 164.0L2428.3 183.0L2438.0 201.0L2448.0 217.0L2458.8 235.0L2470.8 253.0L2483.4 272.0L2498.0 294.0L2512.4 315.0L2524.0 337.0L2535.5 355.8L2545.0 368.5L2555.8 381.9L2566.0 398.5L2576.0 413.7L2596.3 442.7L2613.7 465.8L2620.0 474.6L2626.0 484.5L2632.0 494.6L2638.0 504.8L2644.0 515.1L2650.0 525.6L2656.0 536.1L2662.0 546.7L2668.0 557.3L2674.0 568.0L2680.0 578.6L2686.0 587.0L2692.0 595.4L2698.0 603.8L2704.0 612.2L2710.0 620.7L2716.0 629.1L2722.0 637.6L2728.0 646.1L2734.0 654.7L2740.0 663.2L2746.0 671.8L2752.0 680.3L2758.0 688.9L2764.0 697.5L2770.0 706.2L2776.0 714.8L2782.0 723.4L2788.0 732.1L2794.0 740.7L2800.0 749.3L2806.0 758.3L2812.0 767.4L2818.0 776.4L2824.0 785.4L2830.0 794.3L2836.0 803.3L2842.0 812.3L2848.0 821.3L2854.0 830.2L2860.0 839.0L2866.0 847.6L2872.0 856.3L2878.0 864.9L2884.0 873.5L2890.0 882.2L2896.0 891.0L2902.0 899.9L2908.0 908.8L2914.0 917.8L2920.0 927.0L2926.0 936.4L2932.0 946.2L2938.0 955.7L2944.0 964.7L2950.0 973.7L2956.0 983.2L2962.0 993.2L2968.0 1003.5L2968.5 1013.5L2972.5 1013.5L2973.5 985.0L2975.0 960.0L2976.5 940.0L2977.0 830.0L2978.5 640.0L2980.5 420.0L2984.0 200.0L2986.5 60.0L2987.3 47.0L2990.0 55.0L3010.0 88.0L3032.0 125.0L3053.0 160.0L3074.6 194.0L3098.0 231.0L3122.0 268.0L3143.0 303.0L3164.5 337.0L3182.0 365.0L3200.0 391.6L3230.0 441.0L3258.0 488.0L3287.0 531.0L3316.0 573.0L3345.0 616.0L3374.0 659.0L3403.0 705.0L3432.0 753.0L3456.0 791.0L3480.0 828.0L3500.0 860.0L3519.0 891.0L3545.5 933.8L3560.0 958.0L3575.0 983.0L3582.0 993.0L3588.0 1007.5L3590.0 1010.5L3595.0 1010.5L3595.5 990.0L3597.0 880.0L3598.5 780.0L3600.5 620.0L3602.7 450.0L3604.5 260.0L3606.5 100.0L3607.0 56.5L3612.0 56.5L3617.0 72.0L3622.8 83.0L3636.0 105.0L3649.0 125.0L3670.0 157.0L3691.6 188.7L3713.0 224.0L3734.0 257.5L3755.0 292.0L3776.0 326.0L3792.0 353.0L3808.0 379.0L3820.0 398.0L3832.0 416.0" stroke-width="5.5" stroke-linejoin="round"/>
<path class="ln" d="M2254.0 45.3L2261.9 67.6H2246.0ZM2269.9 54.7L2277.9 77.1H2262.0ZM2285.9 65.4L2293.8 87.8H2277.9ZM2301.9 80.4L2309.8 102.7H2293.9ZM2317.8 95.5L2325.8 117.8H2309.9ZM2333.8 114.0L2341.7 136.3H2325.8ZM2349.7 131.0L2357.7 153.3H2341.8ZM2365.7 151.4L2373.7 173.7H2357.8ZM2381.7 170.4L2389.6 192.8H2373.7ZM2397.6 190.3L2405.6 212.6H2389.7ZM2413.6 210.5L2421.6 232.8H2405.7ZM2429.6 230.3L2437.5 252.6H2421.6ZM2445.5 246.8L2453.5 269.2H2437.6ZM2461.5 268.0L2469.4 290.3H2453.5ZM2477.5 291.2L2485.4 313.5H2469.5ZM2493.4 310.5L2501.4 332.9H2485.5ZM2509.4 333.2L2517.3 355.5H2501.4ZM2525.4 353.3L2533.3 375.6H2517.4ZM2541.3 376.1L2549.3 398.5H2533.4ZM2557.3 395.4L2565.2 417.8H2549.3ZM2573.2 412.8L2581.2 435.1H2565.3ZM2589.2 429.3L2597.2 451.7H2581.3ZM2605.2 447.0L2613.1 469.3H2597.2ZM2621.1 465.9L2629.1 488.2H2613.2ZM2637.1 485.5L2645.1 507.9H2629.2ZM2653.1 506.2L2661.0 528.6H2645.1ZM2669.0 527.2L2677.0 549.6H2661.1ZM2685.0 548.4L2692.9 570.8H2677.0ZM2701.0 569.7L2708.9 592.0H2693.0ZM2716.9 591.2L2724.9 613.6H2709.0ZM2732.9 612.9L2740.8 635.2H2724.9ZM2748.9 634.7L2756.8 657.1H2740.9ZM2764.8 656.7L2772.8 679.0H2756.9ZM2780.8 678.7L2788.7 701.1H2772.8ZM2796.7 700.9L2804.7 723.2H2788.8ZM2812.7 723.0L2820.7 745.4H2804.8ZM2828.7 745.2L2836.6 767.6H2820.7ZM2844.6 767.4L2852.6 789.8H2836.7ZM2860.6 789.6L2868.6 812.0H2852.7ZM2876.6 811.5L2884.5 833.9H2868.6ZM2892.5 833.2L2900.5 855.5H2884.6ZM2908.5 854.8L2916.4 877.2H2900.5ZM2924.5 876.7L2932.4 899.0H2916.5ZM2940.4 899.0L2948.4 921.4H2932.5ZM2956.4 922.2L2964.3 944.6H2948.4ZM2972.4 946.1L2980.3 968.5H2964.4ZM2988.3 969.2L2996.3 991.6H2980.4ZM3004.3 994.7L3012.2 1017.1H2996.3ZM3020.2 53.3L3028.1 75.6H3012.2ZM3036.1 74.7L3044.0 97.0H3028.1ZM3052.0 98.3L3059.9 120.7H3044.0ZM3067.9 125.1L3075.8 147.4H3059.9ZM3083.8 148.3L3091.7 170.7H3075.8ZM3099.7 172.7L3107.7 195.1H3091.8ZM3115.6 197.7L3123.6 220.1H3107.7ZM3131.5 221.2L3139.5 243.6H3123.6ZM3147.4 245.1L3155.4 267.5H3139.5ZM3163.3 269.5L3171.3 291.8H3155.4ZM3179.2 292.6L3187.2 315.0H3171.3ZM3195.1 316.6L3203.1 338.9H3187.2ZM3211.0 340.6L3219.0 363.0H3203.1ZM3226.9 363.8L3234.9 386.2H3219.0ZM3242.8 386.6L3250.8 408.9H3234.9ZM3258.7 408.6L3266.7 431.0H3250.8ZM3274.6 431.5L3282.6 453.9H3266.7ZM3290.6 454.8L3298.5 477.1H3282.6ZM3306.5 478.3L3314.4 500.7H3298.5ZM3322.4 502.1L3330.3 524.4H3314.4ZM3338.3 526.0L3346.2 548.4H3330.3ZM3354.2 550.2L3362.1 572.5H3346.2ZM3370.1 574.5L3378.0 596.9H3362.1ZM3386.0 599.0L3393.9 621.3H3378.0ZM3401.9 623.6L3409.8 645.9H3393.9ZM3417.8 648.3L3425.7 670.6H3409.8ZM3433.6 673.0L3441.6 695.4H3425.7ZM3449.5 697.8L3457.5 720.2H3441.6ZM3465.4 722.7L3473.4 745.0H3457.5ZM3481.3 747.6L3489.2 769.9H3473.3ZM3497.2 772.4L3505.1 794.8H3489.2ZM3513.1 797.3L3521.0 819.6H3505.1ZM3529.0 822.1L3536.9 844.5H3521.0ZM3544.8 847.1L3552.8 869.5H3536.9ZM3560.7 872.2L3568.7 894.6H3552.8ZM3576.6 897.4L3584.6 919.8H3568.7ZM3592.5 922.7L3600.4 945.1H3584.5ZM3608.4 948.1L3616.3 970.5H3600.4ZM3624.3 973.6L3632.2 995.9H3616.3ZM3640.3 999.3L3648.2 1021.7H3632.3ZM3656.7 54.4L3664.6 76.8H3648.7ZM3673.1 80.7L3681.0 103.1H3665.1ZM3689.5 104.8L3697.4 127.2H3681.5ZM3705.6 131.9L3713.6 154.3H3697.7ZM3721.6 155.6L3729.6 177.9H3713.7ZM3737.6 181.2L3745.5 203.5H3729.6ZM3753.6 206.3L3761.5 228.7H3745.6ZM3769.6 231.9L3777.5 254.3H3761.6ZM3785.5 254.9L3793.5 277.3H3777.6ZM3801.5 281.0L3809.5 303.4H3793.6ZM3817.5 305.5L3825.5 327.8H3809.6ZM3833.5 331.8L3841.4 354.1H3825.6Z" stroke-width="3.6"/>
<path class="ln" d="M2245.4 53.7a8.6 9.3 0 1 0 17.2 0a8.6 9.3 0 1 0 -17.2 0zM2261.3 63.1a8.6 9.3 0 1 0 17.2 0a8.6 9.3 0 1 0 -17.2 0zM2277.3 73.8a8.6 9.3 0 1 0 17.2 0a8.6 9.3 0 1 0 -17.2 0zM2293.3 88.8a8.6 9.3 0 1 0 17.2 0a8.6 9.3 0 1 0 -17.2 0zM2309.2 103.9a8.6 9.3 0 1 0 17.2 0a8.6 9.3 0 1 0 -17.2 0zM2325.2 122.4a8.6 9.3 0 1 0 17.2 0a8.6 9.3 0 1 0 -17.2 0zM2341.1 139.4a8.6 9.3 0 1 0 17.2 0a8.6 9.3 0 1 0 -17.2 0zM2357.1 159.8a8.6 9.3 0 1 0 17.2 0a8.6 9.3 0 1 0 -17.2 0zM2373.1 178.8a8.6 9.3 0 1 0 17.2 0a8.6 9.3 0 1 0 -17.2 0zM2389.0 198.7a8.6 9.3 0 1 0 17.2 0a8.6 9.3 0 1 0 -17.2 0zM2405.0 218.9a8.6 9.3 0 1 0 17.2 0a8.6 9.3 0 1 0 -17.2 0zM2421.0 238.7a8.6 9.3 0 1 0 17.2 0a8.6 9.3 0 1 0 -17.2 0zM2436.9 255.7a8.6 9.3 0 1 0 17.2 0a8.6 9.3 0 1 0 -17.2 0zM2452.9 277.3a8.6 9.3 0 1 0 17.2 0a8.6 9.3 0 1 0 -17.2 0zM2468.9 301.0a8.6 9.3 0 1 0 17.2 0a8.6 9.3 0 1 0 -17.2 0zM2484.8 320.8a8.6 9.3 0 1 0 17.2 0a8.6 9.3 0 1 0 -17.2 0zM2500.8 343.9a8.6 9.3 0 1 0 17.2 0a8.6 9.3 0 1 0 -17.2 0zM2516.8 364.4a8.6 9.3 0 1 0 17.2 0a8.6 9.3 0 1 0 -17.2 0zM2532.7 387.8a8.6 9.3 0 1 0 17.2 0a8.6 9.3 0 1 0 -17.2 0zM2548.7 408.3a8.6 9.3 0 1 0 17.2 0a8.6 9.3 0 1 0 -17.2 0zM2564.6 426.7a8.6 9.3 0 1 0 17.2 0a8.6 9.3 0 1 0 -17.2 0zM2580.6 444.4a8.6 9.3 0 1 0 17.2 0a8.6 9.3 0 1 0 -17.2 0zM2596.6 463.5a8.6 9.3 0 1 0 17.2 0a8.6 9.3 0 1 0 -17.2 0zM2612.5 483.8a8.6 9.3 0 1 0 17.2 0a8.6 9.3 0 1 0 -17.2 0zM2628.5 504.8a8.6 9.3 0 1 0 17.2 0a8.6 9.3 0 1 0 -17.2 0zM2644.5 526.4a8.6 9.3 0 1 0 17.2 0a8.6 9.3 0 1 0 -17.2 0zM2660.4 548.3a8.6 9.3 0 1 0 17.2 0a8.6 9.3 0 1 0 -17.2 0zM2676.4 570.3a8.6 9.3 0 1 0 17.2 0a8.6 9.3 0 1 0 -17.2 0zM2692.4 592.3a8.6 9.3 0 1 0 17.2 0a8.6 9.3 0 1 0 -17.2 0zM2708.3 614.3a8.6 9.3 0 1 0 17.2 0a8.6 9.3 0 1 0 -17.2 0zM2724.3 636.5a8.6 9.3 0 1 0 17.2 0a8.6 9.3 0 1 0 -17.2 0zM2740.3 658.8a8.6 9.3 0 1 0 17.2 0a8.6 9.3 0 1 0 -17.2 0zM2756.2 681.2a8.6 9.3 0 1 0 17.2 0a8.6 9.3 0 1 0 -17.2 0zM2772.2 703.7a8.6 9.3 0 1 0 17.2 0a8.6 9.3 0 1 0 -17.2 0zM2788.1 726.3a8.6 9.3 0 1 0 17.2 0a8.6 9.3 0 1 0 -17.2 0zM2804.1 748.9a8.6 9.3 0 1 0 17.2 0a8.6 9.3 0 1 0 -17.2 0zM2820.1 771.6a8.6 9.3 0 1 0 17.2 0a8.6 9.3 0 1 0 -17.2 0zM2836.0 794.2a8.6 9.3 0 1 0 17.2 0a8.6 9.3 0 1 0 -17.2 0zM2852.0 816.8a8.6 9.3 0 1 0 17.2 0a8.6 9.3 0 1 0 -17.2 0zM2868.0 839.1a8.6 9.3 0 1 0 17.2 0a8.6 9.3 0 1 0 -17.2 0zM2883.9 861.3a8.6 9.3 0 1 0 17.2 0a8.6 9.3 0 1 0 -17.2 0zM2899.9 883.7a8.6 9.3 0 1 0 17.2 0a8.6 9.3 0 1 0 -17.2 0zM2915.9 906.5a8.6 9.3 0 1 0 17.2 0a8.6 9.3 0 1 0 -17.2 0zM2931.8 930.0a8.6 9.3 0 1 0 17.2 0a8.6 9.3 0 1 0 -17.2 0zM2947.8 954.8a8.6 9.3 0 1 0 17.2 0a8.6 9.3 0 1 0 -17.2 0zM2963.8 978.3a8.6 9.3 0 1 0 17.2 0a8.6 9.3 0 1 0 -17.2 0zM2979.7 1004.1a8.6 9.3 0 1 0 17.2 0a8.6 9.3 0 1 0 -17.2 0zM2995.7 54.5a8.6 9.3 0 1 0 17.2 0a8.6 9.3 0 1 0 -17.2 0zM3011.6 79.2a8.6 9.3 0 1 0 17.2 0a8.6 9.3 0 1 0 -17.2 0zM3027.5 98.9a8.6 9.3 0 1 0 17.2 0a8.6 9.3 0 1 0 -17.2 0zM3043.4 126.0a8.6 9.3 0 1 0 17.2 0a8.6 9.3 0 1 0 -17.2 0zM3059.3 150.9a8.6 9.3 0 1 0 17.2 0a8.6 9.3 0 1 0 -17.2 0zM3075.2 173.5a8.6 9.3 0 1 0 17.2 0a8.6 9.3 0 1 0 -17.2 0zM3091.1 198.5a8.6 9.3 0 1 0 17.2 0a8.6 9.3 0 1 0 -17.2 0zM3107.0 222.8a8.6 9.3 0 1 0 17.2 0a8.6 9.3 0 1 0 -17.2 0zM3122.9 245.9a8.6 9.3 0 1 0 17.2 0a8.6 9.3 0 1 0 -17.2 0zM3138.8 270.0a8.6 9.3 0 1 0 17.2 0a8.6 9.3 0 1 0 -17.2 0zM3154.7 293.8a8.6 9.3 0 1 0 17.2 0a8.6 9.3 0 1 0 -17.2 0zM3170.6 316.7a8.6 9.3 0 1 0 17.2 0a8.6 9.3 0 1 0 -17.2 0zM3186.5 340.8a8.6 9.3 0 1 0 17.2 0a8.6 9.3 0 1 0 -17.2 0zM3202.4 364.4a8.6 9.3 0 1 0 17.2 0a8.6 9.3 0 1 0 -17.2 0zM3218.3 387.1a8.6 9.3 0 1 0 17.2 0a8.6 9.3 0 1 0 -17.2 0zM3234.2 409.5a8.6 9.3 0 1 0 17.2 0a8.6 9.3 0 1 0 -17.2 0zM3250.1 431.5a8.6 9.3 0 1 0 17.2 0a8.6 9.3 0 1 0 -17.2 0zM3266.0 454.2a8.6 9.3 0 1 0 17.2 0a8.6 9.3 0 1 0 -17.2 0zM3282.0 477.2a8.6 9.3 0 1 0 17.2 0a8.6 9.3 0 1 0 -17.2 0zM3297.9 500.5a8.6 9.3 0 1 0 17.2 0a8.6 9.3 0 1 0 -17.2 0zM3313.8 523.9a8.6 9.3 0 1 0 17.2 0a8.6 9.3 0 1 0 -17.2 0zM3329.7 547.6a8.6 9.3 0 1 0 17.2 0a8.6 9.3 0 1 0 -17.2 0zM3345.6 571.4a8.6 9.3 0 1 0 17.2 0a8.6 9.3 0 1 0 -17.2 0zM3361.5 595.4a8.6 9.3 0 1 0 17.2 0a8.6 9.3 0 1 0 -17.2 0zM3377.4 619.6a8.6 9.3 0 1 0 17.2 0a8.6 9.3 0 1 0 -17.2 0zM3393.3 643.8a8.6 9.3 0 1 0 17.2 0a8.6 9.3 0 1 0 -17.2 0zM3409.2 668.1a8.6 9.3 0 1 0 17.2 0a8.6 9.3 0 1 0 -17.2 0zM3425.0 692.5a8.6 9.3 0 1 0 17.2 0a8.6 9.3 0 1 0 -17.2 0zM3440.9 717.0a8.6 9.3 0 1 0 17.2 0a8.6 9.3 0 1 0 -17.2 0zM3456.8 741.5a8.6 9.3 0 1 0 17.2 0a8.6 9.3 0 1 0 -17.2 0zM3472.7 766.0a8.6 9.3 0 1 0 17.2 0a8.6 9.3 0 1 0 -17.2 0zM3488.6 790.5a8.6 9.3 0 1 0 17.2 0a8.6 9.3 0 1 0 -17.2 0zM3504.5 814.9a8.6 9.3 0 1 0 17.2 0a8.6 9.3 0 1 0 -17.2 0zM3520.4 839.4a8.6 9.3 0 1 0 17.2 0a8.6 9.3 0 1 0 -17.2 0zM3536.2 864.0a8.6 9.3 0 1 0 17.2 0a8.6 9.3 0 1 0 -17.2 0zM3552.1 888.7a8.6 9.3 0 1 0 17.2 0a8.6 9.3 0 1 0 -17.2 0zM3568.0 913.6a8.6 9.3 0 1 0 17.2 0a8.6 9.3 0 1 0 -17.2 0zM3583.9 938.5a8.6 9.3 0 1 0 17.2 0a8.6 9.3 0 1 0 -17.2 0zM3599.8 963.4a8.6 9.3 0 1 0 17.2 0a8.6 9.3 0 1 0 -17.2 0zM3615.7 988.5a8.6 9.3 0 1 0 17.2 0a8.6 9.3 0 1 0 -17.2 0zM3631.7 1013.8a8.6 9.3 0 1 0 17.2 0a8.6 9.3 0 1 0 -17.2 0zM3648.1 68.8a8.6 9.3 0 1 0 17.2 0a8.6 9.3 0 1 0 -17.2 0zM3664.5 95.1a8.6 9.3 0 1 0 17.2 0a8.6 9.3 0 1 0 -17.2 0zM3680.9 119.2a8.6 9.3 0 1 0 17.2 0a8.6 9.3 0 1 0 -17.2 0zM3697.0 146.3a8.6 9.3 0 1 0 17.2 0a8.6 9.3 0 1 0 -17.2 0zM3713.0 170.0a8.6 9.3 0 1 0 17.2 0a8.6 9.3 0 1 0 -17.2 0zM3729.0 195.6a8.6 9.3 0 1 0 17.2 0a8.6 9.3 0 1 0 -17.2 0zM3745.0 220.7a8.6 9.3 0 1 0 17.2 0a8.6 9.3 0 1 0 -17.2 0zM3761.0 246.3a8.6 9.3 0 1 0 17.2 0a8.6 9.3 0 1 0 -17.2 0zM3776.9 269.3a8.6 9.3 0 1 0 17.2 0a8.6 9.3 0 1 0 -17.2 0zM3792.9 295.4a8.6 9.3 0 1 0 17.2 0a8.6 9.3 0 1 0 -17.2 0zM3808.9 319.9a8.6 9.3 0 1 0 17.2 0a8.6 9.3 0 1 0 -17.2 0zM3824.9 346.2a8.6 9.3 0 1 0 17.2 0a8.6 9.3 0 1 0 -17.2 0z" stroke-width="3.9"/>
<path class="ln" d="M2239.8 1000.0L2261.8 1026.0M2261.8 1000.0L2239.8 1026.0M2250.8 999.5V1026.5M2260.0 1003.5L2282.0 1029.5M2282.0 1003.5L2260.0 1029.5M2271.0 1003.0V1030.0M2274.8 50.8L2296.8 76.8M2296.8 50.8L2274.8 76.8M2285.8 50.3V77.3M2290.7 66.8L2312.7 92.8M2312.7 66.8L2290.7 92.8M2301.7 66.3V93.3M2306.6 85.9L2328.6 111.9M2328.6 85.9L2306.6 111.9M2317.6 85.4V112.4M2322.6 106.0L2344.6 132.0M2344.6 106.0L2322.6 132.0M2333.6 105.5V132.5M2338.5 124.7L2360.5 150.7M2360.5 124.7L2338.5 150.7M2349.5 124.2V151.2M2354.4 146.8L2376.4 172.8M2376.4 146.8L2354.4 172.8M2365.4 146.3V173.3M2370.3 167.2L2392.3 193.2M2392.3 167.2L2370.3 193.2M2381.3 166.7V193.7M2386.3 188.4L2408.3 214.4M2408.3 188.4L2386.3 214.4M2397.3 187.9V214.9M2402.2 210.0L2424.2 236.0M2424.2 210.0L2402.2 236.0M2413.2 209.5V236.5M2418.1 231.2L2440.1 257.2M2440.1 231.2L2418.1 257.2M2429.1 230.7V257.7M2434.0 249.6L2456.0 275.6M2456.0 249.6L2434.0 275.6M2445.0 249.1V276.1M2449.9 272.6L2471.9 298.6M2471.9 272.6L2449.9 298.6M2460.9 272.1V299.1M2465.9 297.6L2487.9 323.6M2487.9 297.6L2465.9 323.6M2476.9 297.1V324.1M2481.8 318.8L2503.8 344.8M2503.8 318.8L2481.8 344.8M2492.8 318.3V345.3M2497.7 342.9L2519.7 368.9M2519.7 342.9L2497.7 368.9M2508.7 342.4V369.4M2513.6 364.4L2535.6 390.4M2535.6 364.4L2513.6 390.4M2524.6 363.9V390.9M2529.5 388.8L2551.5 414.8M2551.5 388.8L2529.5 414.8M2540.5 388.3V415.3M2545.5 410.3L2567.5 436.3M2567.5 410.3L2545.5 436.3M2556.5 409.8V436.8M2561.4 429.7L2583.4 455.7M2583.4 429.7L2561.4 455.7M2572.4 429.2V456.2M2577.3 448.4L2599.3 474.4M2599.3 448.4L2577.3 474.4M2588.3 447.9V474.9M2593.2 468.9L2615.2 494.9M2615.2 468.9L2593.2 494.9M2604.2 468.4V495.4M2609.1 490.6L2631.1 516.6M2631.1 490.6L2609.1 516.6M2620.1 490.1V517.1M2624.4 513.1L2646.4 539.1M2646.4 513.1L2624.4 539.1M2635.4 512.6V539.6M2639.7 536.1L2661.7 562.1M2661.7 536.1L2639.7 562.1M2650.7 535.6V562.6M2654.9 559.4L2676.9 585.4M2676.9 559.4L2654.9 585.4M2665.9 558.9V585.9M2670.2 582.9L2692.2 608.9M2692.2 582.9L2670.2 608.9M2681.2 582.4V609.4M2685.5 606.3L2707.5 632.3M2707.5 606.3L2685.5 632.3M2696.5 605.8V632.8M2701.4 628.2L2723.4 654.2M2723.4 628.2L2701.4 654.2M2712.4 627.7V654.7M2717.3 650.2L2739.3 676.2M2739.3 650.2L2717.3 676.2M2728.3 649.7V676.7M2733.3 672.3L2755.3 698.3M2755.3 672.3L2733.3 698.3M2744.3 671.8V698.8M2749.2 694.6L2771.2 720.6M2771.2 694.6L2749.2 720.6M2760.2 694.1V721.1M2765.1 717.0L2787.1 743.0M2787.1 717.0L2765.1 743.0M2776.1 716.5V743.5M2781.1 739.4L2803.1 765.4M2803.1 739.4L2781.1 765.4M2792.1 738.9V765.9M2797.0 761.9L2819.0 787.9M2819.0 761.9L2797.0 787.9M2808.0 761.4V788.4M2812.9 784.4L2834.9 810.4M2834.9 784.4L2812.9 810.4M2823.9 783.9V810.9M2828.9 806.8L2850.9 832.8M2850.9 806.8L2828.9 832.8M2839.9 806.3V833.3M2844.8 829.3L2866.8 855.3M2866.8 829.3L2844.8 855.3M2855.8 828.8V855.8M2860.7 852.0L2882.7 878.0M2882.7 852.0L2860.7 878.0M2871.7 851.5V878.5M2876.7 874.6L2898.7 900.6M2898.7 874.6L2876.7 900.6M2887.7 874.1V901.1M2892.6 897.3L2914.6 923.3M2914.6 897.3L2892.6 923.3M2903.6 896.8V923.8M2908.5 920.5L2930.5 946.5M2930.5 920.5L2908.5 946.5M2919.5 920.0V947.0M2924.5 945.0L2946.5 971.0M2946.5 945.0L2924.5 971.0M2935.5 944.5V971.5M2940.4 970.8L2962.4 996.8M2962.4 970.8L2940.4 996.8M2951.4 970.3V997.3M2956.4 995.3L2978.4 1021.3M2978.4 995.3L2956.4 1021.3M2967.4 994.8V1021.8M2975.3 42.3L2997.3 68.3M2997.3 42.3L2975.3 68.3M2986.3 41.8V68.8M2990.9 71.4L3012.9 97.4M3012.9 71.4L2990.9 97.4M3001.9 70.9V97.9M3006.4 96.0L3028.4 122.0M3028.4 96.0L3006.4 122.0M3017.4 95.5V122.5M3021.9 115.6L3043.9 141.6M3043.9 115.6L3021.9 141.6M3032.9 115.1V142.1M3037.4 142.5L3059.4 168.5M3059.4 142.5L3037.4 168.5M3048.4 142.0V169.0M3052.9 167.2L3074.9 193.2M3074.9 167.2L3052.9 193.2M3063.9 166.7V193.7M3069.3 189.7L3091.3 215.7M3091.3 189.7L3069.3 215.7M3080.3 189.2V216.2M3085.7 214.7L3107.7 240.7M3107.7 214.7L3085.7 240.7M3096.7 214.2V241.2M3102.1 238.8L3124.1 264.8M3124.1 238.8L3102.1 264.8M3113.1 238.3V265.3M3118.5 261.7L3140.5 287.7M3140.5 261.7L3118.5 287.7M3129.5 261.2V288.2M3134.9 285.4L3156.9 311.4M3156.9 285.4L3134.9 311.4M3145.9 284.9V311.9M3151.3 309.0L3173.3 335.0M3173.3 309.0L3151.3 335.0M3162.3 308.5V335.5M3167.7 331.7L3189.7 357.7M3189.7 331.7L3167.7 357.7M3178.7 331.2V358.2M3184.1 355.5L3206.1 381.5M3206.1 355.5L3184.1 381.5M3195.1 355.0V382.0M3200.0 378.8L3222.0 404.8M3222.0 378.8L3200.0 404.8M3211.0 378.3V405.3M3215.9 401.3L3237.9 427.3M3237.9 401.3L3215.9 427.3M3226.9 400.8V427.8M3231.8 423.4L3253.8 449.4M3253.8 423.4L3231.8 449.4M3242.8 422.9V449.9M3247.7 445.1L3269.7 471.1M3269.7 445.1L3247.7 471.1M3258.7 444.6V471.6M3263.6 467.5L3285.6 493.5M3285.6 467.5L3263.6 493.5M3274.6 467.0V494.0M3279.6 490.3L3301.6 516.3M3301.6 490.3L3279.6 516.3M3290.6 489.8V516.8M3295.5 513.3L3317.5 539.3M3317.5 513.3L3295.5 539.3M3306.5 512.8V539.8M3311.4 536.5L3333.4 562.5M3333.4 536.5L3311.4 562.5M3322.4 536.0V563.0M3327.3 559.9L3349.3 585.9M3349.3 559.9L3327.3 585.9M3338.3 559.4V586.4M3343.2 583.4L3365.2 609.4M3365.2 583.4L3343.2 609.4M3354.2 582.9V609.9M3359.1 607.9L3381.1 633.9M3381.1 607.9L3359.1 633.9M3370.1 607.4V634.4M3375.0 632.4L3397.0 658.4M3397.0 632.4L3375.0 658.4M3386.0 631.9V658.9M3390.9 657.1L3412.9 683.1M3412.9 657.1L3390.9 683.1M3401.9 656.6V683.6M3406.8 681.9L3428.8 707.9M3428.8 681.9L3406.8 707.9M3417.8 681.4V708.4M3422.6 706.7L3444.6 732.7M3444.6 706.7L3422.6 732.7M3433.6 706.2V733.2M3438.5 731.6L3460.5 757.6M3460.5 731.6L3438.5 757.6M3449.5 731.1V758.1M3454.4 756.5L3476.4 782.5M3476.4 756.5L3454.4 782.5M3465.4 756.0V783.0M3470.3 781.5L3492.3 807.5M3492.3 781.5L3470.3 807.5M3481.3 781.0V808.0M3486.2 806.5L3508.2 832.5M3508.2 806.5L3486.2 832.5M3497.2 806.0V833.0M3502.1 831.4L3524.1 857.4M3524.1 831.4L3502.1 857.4M3513.1 830.9V857.9M3518.0 856.4L3540.0 882.4M3540.0 856.4L3518.0 882.4M3529.0 855.9V882.9M3533.8 881.5L3555.8 907.5M3555.8 881.5L3533.8 907.5M3544.8 881.0V908.0M3549.7 906.7L3571.7 932.7M3571.7 906.7L3549.7 932.7M3560.7 906.2V933.2M3565.6 932.1L3587.6 958.1M3587.6 932.1L3565.6 958.1M3576.6 931.6V958.6M3581.5 957.5L3603.5 983.5M3603.5 957.5L3581.5 983.5M3592.5 957.0V984.0M3597.4 982.9L3619.4 1008.9M3619.4 982.9L3597.4 1008.9M3608.4 982.4V1009.4M3613.3 1008.5L3635.3 1034.5M3635.3 1008.5L3613.3 1034.5M3624.3 1008.0V1035.0M3629.3 50.4L3651.3 76.4M3651.3 50.4L3629.3 76.4M3640.3 49.9V76.9M3645.7 78.8L3667.7 104.8M3667.7 78.8L3645.7 104.8M3656.7 78.3V105.3M3662.1 105.1L3684.1 131.1M3684.1 105.1L3662.1 131.1M3673.1 104.6V131.6M3678.5 129.2L3700.5 155.2M3700.5 129.2L3678.5 155.2M3689.5 128.7V155.7M3694.6 156.3L3716.6 182.3M3716.6 156.3L3694.6 182.3M3705.6 155.8V182.8M3710.6 180.0L3732.6 206.0M3732.6 180.0L3710.6 206.0M3721.6 179.5V206.5M3726.6 205.6L3748.6 231.6M3748.6 205.6L3726.6 231.6M3737.6 205.1V232.1M3742.6 230.7L3764.6 256.7M3764.6 230.7L3742.6 256.7M3753.6 230.2V257.2M3758.6 256.3L3780.6 282.3M3780.6 256.3L3758.6 282.3M3769.6 255.8V282.8M3774.5 279.3L3796.5 305.3M3796.5 279.3L3774.5 305.3M3785.5 278.8V305.8M3790.5 305.4L3812.5 331.4M3812.5 305.4L3790.5 331.4M3801.5 304.9V331.9M3806.5 329.9L3828.5 355.9M3828.5 329.9L3806.5 355.9M3817.5 329.4V356.4M3822.5 356.2L3844.5 382.2M3844.5 356.2L3822.5 382.2M3833.5 355.7V382.7" stroke-width="3.5"/>
<rect class="ln" x="2238.6" y="43.2" width="1598.0" height="983.2" stroke-width="5.4"/>
</g>
<g id="labels">
<text x="134.5" y="79.8" font-size="62.5">1.0×10</text>
<text x="310.2" y="54.8" font-size="41.5">-8</text>
<text x="118.1" y="393.0" font-size="62.5">1.0×10</text>
<text x="293.2" y="368.0" font-size="41.5">-12</text>
<text x="118.1" y="723.6" font-size="62.5">1.0×10</text>
<text x="293.2" y="698.0" font-size="41.5">-16</text>
<text x="118.0" y="1053.5" font-size="62.5">1.0×10</text>
<text x="293.5" y="1028.4" font-size="41.5">-20</text>
<text x="353.8" y="1103.3" font-size="62.5" letter-spacing="0">0</text>
<text x="677.9" y="1103.3" font-size="62.5" letter-spacing="0">5</text>
<text x="986.5" y="1103.3" font-size="62.5" letter-spacing="-1">10</text>
<text x="1303.2" y="1103.3" font-size="62.5" letter-spacing="0">15</text>
<text x="1620.2" y="1103.3" font-size="62.5" letter-spacing="4.5">20</text>
<text x="1941.2" y="1103.3" font-size="62.5" letter-spacing="2">25</text>
<text x="1042.2" y="1166.4" font-size="62.5">Offset/km</text>
<text x="1837.8" y="853.7" font-size="62" letter-spacing="1.6">(a)</text>
<text transform="translate(69 704) rotate(-90)" font-size="61"><tspan font-style="italic">Ez</tspan>/(V·m<tspan font-size="40.5" dy="-25">-1</tspan><tspan dy="25">)</tspan></text>
<text x="2123.0" y="64.5" font-size="63">360</text>
<text x="2122.7" y="396.6" font-size="63">240</text>
<text x="2125.5" y="715.6" font-size="63">120</text>
<text x="2185.1" y="1048.8" font-size="63">0</text>
<text x="2221.8" y="1103.2" font-size="63" letter-spacing="0">0</text>
<text x="2545.2" y="1103.2" font-size="63" letter-spacing="0">5</text>
<text x="2852.9" y="1103.2" font-size="63" letter-spacing="2">10</text>
<text x="3169.5" y="1103.2" font-size="63" letter-spacing="1">15</text>
<text x="3487.6" y="1103.2" font-size="63" letter-spacing="4">20</text>
<text x="3809.1" y="1103.2" font-size="63" letter-spacing="2.5">25</text>
<text x="2914.3" y="1166.4" font-size="62.5">Offset/km</text>
<text x="3717.2" y="853.6" font-size="62" letter-spacing="0.6">(b)</text>
<text transform="translate(2093.5 619.5) rotate(-90)" font-size="72"><tspan font-style="italic">ϕ</tspan><tspan font-style="italic" font-size="39" dy="12">Ez</tspan><tspan font-size="78" dy="-7" dx="9">/</tspan><tspan font-size="61.5" dy="-5" dx="-1">(°)</tspan></text>
<text x="505.7" y="757.0" font-size="62.6">Sea water/m</text>
<text x="580.0" y="894.7" font-size="61.5">300</text>
<text x="580.2" y="963.5" font-size="61.5">200</text>
<text x="813.4" y="822.0" font-size="61.5">150</text>
<text x="813.5" y="904.0" font-size="61.5">100</text>
<path class="ln" d="M460.4 818.9H567.5" stroke-width="5.6"/>
<text x="583.0" y="833.9" font-size="55">∞</text>
<path class="ln" d="M747.0 806.5L761.0 833.5H733.0Z" stroke-width="6"/>
<path class="ln" d="M500.29999999999995 872.5L527.3 897.5M527.3 872.5L500.29999999999995 897.5M513.8 869.5V900.5" stroke-width="5.3"/>
<path class="ln" d="M692.0 885.0H800.0" stroke-width="5.6" stroke-dasharray="16 7"/>
<circle class="ln" cx="516.0" cy="952.5" r="19.3" stroke-width="6"/>
<text x="2412.7" y="761.6" font-size="62.6">Sea water/m</text>
<text x="2488.0" y="899.0" font-size="63">300</text>
<text x="2488.2" y="967.5" font-size="63">200</text>
<text x="2722.5" y="824.6" font-size="63">150</text>
<text x="2722.5" y="906.0" font-size="63">100</text>
<path class="ln" d="M2371.7 818.9H2480.0" stroke-width="5.6"/>
<text x="2494.5" y="833.9" font-size="55">∞</text>
<path class="ln" d="M2658.5 807.5L2672.5 833.5H2644.5Z" stroke-width="6"/>
<path class="ln" d="M2412.5 872.5L2439.5 897.5M2439.5 872.5L2412.5 897.5M2426.0 869.5V900.5" stroke-width="5.3"/>
<path class="ln" d="M2603.7 885.0H2711.0" stroke-width="5.6" stroke-dasharray="16 7"/>
<circle class="ln" cx="2427.0" cy="952.5" r="19.3" stroke-width="6"/>
</g>
</svg>
</body></html>
